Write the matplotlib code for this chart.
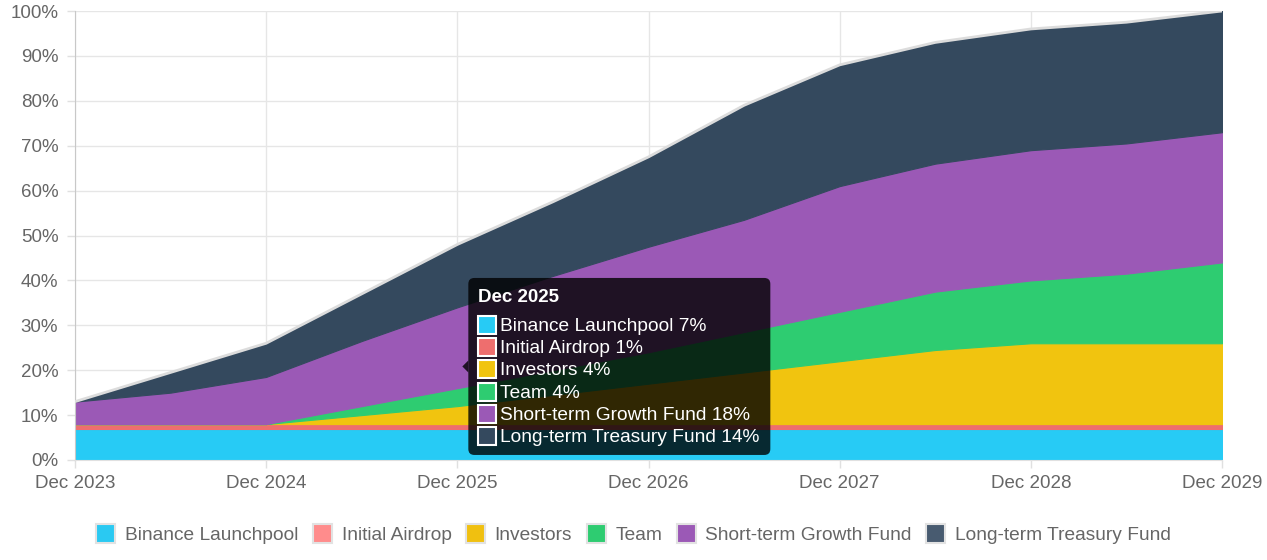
import matplotlib
matplotlib.use("Agg")
import matplotlib.pyplot as plt
from matplotlib.patches import Patch, FancyBboxPatch, Rectangle, Polygon
from matplotlib.transforms import IdentityTransform

plt.rcParams['font.family'] = ['Liberation Sans', 'DejaVu Sans']

# months since Dec 2023, one point every half year
months = [0, 6, 12, 18, 24, 30, 36, 42, 48, 54, 60, 66, 72]
tick_months = [0, 12, 24, 36, 48, 60, 72]
tick_labels = ['Dec 2023', 'Dec 2024', 'Dec 2025', 'Dec 2026',
               'Dec 2027', 'Dec 2028', 'Dec 2029']
point_labels = ['Dec 2023', 'Jun 2024', 'Dec 2024', 'Jun 2025', 'Dec 2025',
                'Jun 2026', 'Dec 2026', 'Jun 2027', 'Dec 2027', 'Jun 2028',
                'Dec 2028', 'Jun 2029', 'Dec 2029']

# unlocked share of supply, %
binance = [7, 7, 7, 7, 7, 7, 7, 7, 7, 7, 7, 7, 7]
airdrop = [1, 1, 1, 1, 1, 1, 1, 1, 1, 1, 1, 1, 1]
investors = [0, 0, 0, 2, 4, 6.5, 9, 11.5, 14, 16.5, 18, 18, 18]
team = [0, 0, 0, 2, 4, 5.5, 7, 9, 11, 13, 14, 15.5, 18]
short_term = [5, 7, 10.5, 14.5, 18, 21, 23.5, 25, 28, 28.5, 29, 29, 29]
long_term = [0, 4.5, 7.5, 10.5, 14, 16.5, 20, 25.5, 27, 27, 27, 27, 27]

names = ['Binance Launchpool', 'Initial Airdrop', 'Investors', 'Team',
         'Short-term Growth Fund', 'Long-term Treasury Fund']
colors = ['#27cbf5', '#ee6e6e', '#f1c40f', '#2ecc71', '#9b59b6', '#34495e']
legend_colors = ['#2ac9f2', '#ff8c8c', '#f0c010', '#2ecc71', '#9b59b6', '#485b70']
series = [binance, airdrop, investors, team, short_term, long_term]

W, H = 1267, 560
fig = plt.figure(figsize=(W / 100, H / 100), dpi=100)
ax = fig.add_axes([75 / W, (H - 460) / H, (1222 - 75) / W, (460 - 11) / H])

stacks = ax.stackplot(months, *series, colors=colors, linewidth=0.8, zorder=2)
for poly, c in zip(stacks, colors):
    poly.set_edgecolor(c)

# light outline on top of the whole stack
total = [sum(v) for v in zip(*series)]
ax.plot(months, total, color='#dcdcdc', lw=2, zorder=3)

ax.set_xlim(0, 72)
ax.set_ylim(0, 100)
ax.set_xticks(tick_months)
ax.set_xticklabels(tick_labels)
ax.set_yticks(range(0, 101, 10))
ax.set_yticklabels([f'{v}%' for v in range(0, 101, 10)])
ax.grid(True, color='#e6e6e6', lw=1, zorder=0)
ax.set_axisbelow(True)
ax.tick_params(axis='both', colors='#e0e0e0', labelcolor='#666666',
               labelsize=13.5, length=6, width=1)
ax.tick_params(axis='y', pad=6)
ax.tick_params(axis='x', pad=5)
for s in ['top', 'right']:
    ax.spines[s].set_visible(False)
ax.spines['left'].set_color('#c8c8c8')
ax.spines['bottom'].set_color('#e0e0e0')

handles = [Patch(facecolor=c, edgecolor='#e2e2e2', lw=1.5) for c in legend_colors]
fig.legend(handles, names, loc='center', bbox_to_anchor=(0.5, (H - 534) / H),
           ncol=6, frameon=False, fontsize=13.8, labelcolor='#666666',
           handlelength=1.0, handleheight=1.1, handletextpad=0.5,
           columnspacing=0.75)

# tooltip at Dec 2025
idx = 4
cum = []
run = 0
for s in series:
    run += s[idx]
    cum.append(run)
avg = sum(cum) / len(cum)
fig.canvas.draw()
px, py = ax.transData.transform((months[idx], avg))

tid = IdentityTransform()
bw, bh = 302, 177
left = px + 11
bottom = py - bh / 2
box = FancyBboxPatch((left, bottom), bw, bh,
                     boxstyle='round,pad=0,rounding_size=6',
                     fc=(0, 0, 0, 0.8), ec='none', transform=tid, zorder=10)
fig.add_artist(box)
caret = Polygon([(left, py + 6), (left - 6, py), (left, py - 6)], closed=True,
                fc=(0, 0, 0, 0.8), ec='none', transform=tid, zorder=10)
fig.add_artist(caret)

top = bottom + bh
fig.text(left + 10, top - 24, point_labels[idx], color='white', fontsize=13.5,
         fontweight='bold', transform=tid, zorder=11)
for i, (name, s, c) in enumerate(zip(names, series, colors)):
    base = top - 53 - 22.2 * i
    sq = Rectangle((left + 10, base - 3), 18, 18, fc=c, ec='white', lw=1.5,
                   transform=tid, zorder=11)
    fig.add_artist(sq)
    fig.text(left + 32, base, f'{name} {s[idx]:g}%', color='white',
             fontsize=13.8, transform=tid, zorder=11)

fig.savefig('out.png', dpi=100)
